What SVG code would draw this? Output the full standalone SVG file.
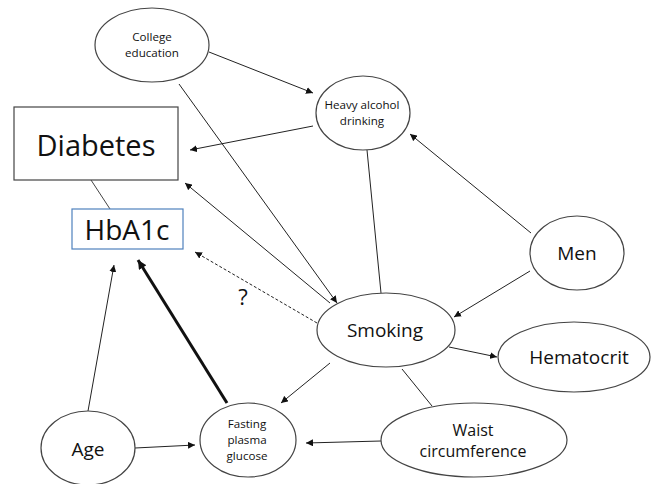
<svg xmlns="http://www.w3.org/2000/svg" width="652" height="484" viewBox="0 0 652 484">
<defs>
<marker id="ah" viewBox="0 0 10 10" refX="10" refY="5" markerWidth="7" markerHeight="7" markerUnits="userSpaceOnUse" orient="auto"><path d="M0,0 L10,5 L0,10 z" fill="#111"/></marker>
<marker id="ahb" viewBox="0 0 10 10" refX="10" refY="5" markerWidth="9" markerHeight="9" markerUnits="userSpaceOnUse" orient="auto"><path d="M0,0 L10,5 L0,10 z" fill="#111"/></marker>
</defs>
<style>
.n{fill:#fff;stroke:#444;stroke-width:1.2}
.t{font-family:"Open Sans","Noto Sans",sans-serif;fill:#111;text-anchor:middle}
.s{font-size:11.6px}
.m{font-size:19px}
.c{stroke:#222;stroke-width:1;fill:none}
.thick{stroke:#111;stroke-width:3;fill:none}
</style>
<rect width="652" height="484" fill="#fff"/>
<g id="connectors">
<line class="c" x1="209" y1="52" x2="313" y2="93" marker-end="url(#ah)"/>
<line class="c" x1="313" y1="126" x2="190" y2="150" marker-end="url(#ah)"/>
<line class="c" x1="179" y1="84" x2="337" y2="303" marker-end="url(#ah)"/>
<line class="c" x1="330" y1="303" x2="185" y2="183" marker-end="url(#ah)"/>
<line class="c" x1="317" y1="323" x2="195" y2="252" stroke-dasharray="3,2" marker-end="url(#ah)"/>
<line class="c" x1="367" y1="150" x2="381" y2="293"/>
<line class="c" x1="531" y1="233" x2="410" y2="134" marker-end="url(#ah)"/>
<line class="c" x1="530" y1="271" x2="454" y2="317" marker-end="url(#ah)"/>
<line class="c" x1="449" y1="347" x2="497" y2="357" marker-end="url(#ah)"/>
<line class="c" x1="402" y1="369" x2="432" y2="406"/>
<line class="c" x1="381" y1="441" x2="306" y2="443" marker-end="url(#ah)"/>
<line class="c" x1="330" y1="363" x2="281" y2="403" marker-end="url(#ah)"/>
<line class="c" x1="135" y1="448" x2="195" y2="445" marker-end="url(#ah)"/>
<line class="c" x1="88" y1="411" x2="114" y2="265" marker-end="url(#ah)"/>
<line class="thick" x1="227" y1="403" x2="138" y2="260" marker-end="url(#ahb)"/>
<line x1="91" y1="180" x2="110" y2="209" stroke="#444" stroke-width="1"/>
<text class="t" x="243" y="305" style="font-size:22px">?</text>
</g>
<g id="college"><ellipse class="n" cx="152" cy="45" rx="57" ry="37"/><text class="t s" x="152" y="41">College</text><text class="t s" x="152" y="57">education</text></g>
<g id="diabetes"><rect x="14" y="107" width="164" height="73" fill="#fff" stroke="#444" stroke-width="1.2"/><text class="t" x="96" y="156" style="font-size:29px">Diabetes</text></g>
<g id="hba1c"><rect x="72" y="209" width="111" height="40" fill="#fff" stroke="#4f81bd" stroke-width="1.2"/><text class="t" x="127" y="240" style="font-size:28px">HbA1c</text></g>
<g id="alcohol"><ellipse class="n" cx="363" cy="113" rx="47" ry="37"/><text class="t s" x="362" y="109">Heavy alcohol</text><text class="t s" x="362" y="125">drinking</text></g>
<g id="men"><ellipse class="n" cx="577" cy="253" rx="47" ry="37"/><text class="t m" x="577" y="260">Men</text></g>
<g id="smoking"><ellipse class="n" cx="386" cy="330" rx="69" ry="37"/><text class="t m" x="385" y="337">Smoking</text></g>
<g id="hematocrit"><ellipse class="n" cx="574" cy="357" rx="76" ry="35"/><text class="t m" x="579" y="364">Hematocrit</text></g>
<g id="waist"><ellipse class="n" cx="474" cy="440" rx="93" ry="37"/><text class="t" x="473" y="436" style="font-size:16px">Waist</text><text class="t" x="473" y="457" style="font-size:16px">circumference</text></g>
<g id="age"><ellipse class="n" cx="88" cy="448" rx="47" ry="37"/><text class="t m" x="88" y="456">Age</text></g>
<g id="fpg"><ellipse class="n" cx="248" cy="440" rx="48" ry="37"/><text class="t s" x="247" y="428">Fasting</text><text class="t s" x="247" y="444">plasma</text><text class="t s" x="247" y="460">glucose</text></g>
</svg>
